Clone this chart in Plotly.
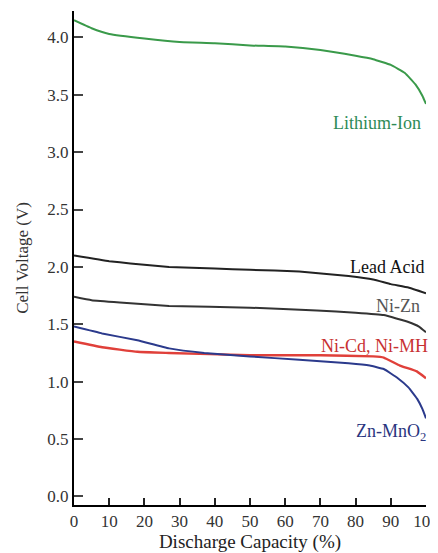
import plotly.graph_objects as go

# Discharge capacity (%) and cell voltage (V) per chemistry
li_x = [0, 5, 10, 20, 30, 40, 50, 60, 70, 80, 85, 90, 94, 97, 99, 100]
li_y = [4.15, 4.08, 4.03, 3.99, 3.96, 3.95, 3.93, 3.92, 3.89, 3.84, 3.81, 3.76, 3.69, 3.59, 3.49, 3.42]

pb_x = [0, 10, 16, 27, 40, 50, 64, 78, 85, 90, 95, 100]
pb_y = [2.10, 2.05, 2.03, 2.00, 1.985, 1.975, 1.96, 1.92, 1.89, 1.85, 1.82, 1.77]

nizn_x = [0, 5, 13, 27, 50, 69, 80, 88, 95, 98, 100]
nizn_y = [1.74, 1.71, 1.69, 1.66, 1.645, 1.62, 1.60, 1.58, 1.52, 1.48, 1.43]

nicd_x = [0, 8, 18, 27, 50, 70, 85, 88, 92.6, 97.4, 100]
nicd_y = [1.35, 1.30, 1.26, 1.25, 1.23, 1.23, 1.22, 1.21, 1.14, 1.09, 1.03]

zn_x = [0, 8, 18, 27, 37, 50, 64, 78, 84, 88, 92, 95, 97.5, 99, 100]
zn_y = [1.48, 1.42, 1.36, 1.29, 1.25, 1.22, 1.19, 1.16, 1.14, 1.11, 1.03, 0.95, 0.85, 0.76, 0.68]

x_ticks = [0, 10, 20, 30, 40, 50, 60, 70, 80, 90, 100]
y_ticks = [0.0, 0.5, 1.0, 1.5, 2.0, 2.5, 3.0, 3.5, 4.0]

labels = ["Lithium-Ion", "Lead Acid", "Ni-Zn", "Ni-Cd, Ni-MH", "Zn-MnO<sub>2</sub>"]
label_x = [86, 89, 92, 85.5, 90]
label_y = [3.25, 2.0, 1.66, 1.31, 0.56]

line_colors = ["#3a9a4a", "#222222", "#333333", "#e0403a", "#2b3a8c"]
label_colors = ["#2e8b57", "#111111", "#555555", "#c83232", "#2a3580"]
line_widths = [2, 2, 2, 2.4, 2]

series = [(li_x, li_y), (pb_x, pb_y), (nizn_x, nizn_y), (nicd_x, nicd_y), (zn_x, zn_y)]

FONT = "Liberation Serif, Times New Roman, serif"

fig = go.Figure()
for (xs, ys), name, col, lw in zip(series, labels, line_colors, line_widths):
    fig.add_trace(go.Scatter(x=xs, y=ys, mode="lines", name=name,
                             line=dict(color=col, width=lw, shape="spline", smoothing=0.3),
                             showlegend=False))

for txt, lx, ly, col in zip(labels, label_x, label_y, label_colors):
    fig.add_annotation(x=lx, y=ly, xref="x", yref="y", text=txt, showarrow=False,
                       font=dict(family=FONT, size=18, color=col),
                       xanchor="center", yanchor="middle")

# page body adds an 8px offset, so the figure is 8px smaller than the window
fig.update_layout(
    width=430, height=545,
    margin=dict(l=66, r=12, t=3, b=48, autoexpand=False),
    paper_bgcolor="white", plot_bgcolor="white",
    font=dict(family=FONT, size=17, color="#333333"),
)
fig.update_xaxes(
    range=[0, 100], tickvals=x_ticks, ticks="inside", ticklen=7, tickwidth=1.5,
    tickcolor="#222", showline=True, linecolor="black", linewidth=2,
    showgrid=False, zeroline=False, automargin=False, ticklabeloverflow="allow",
    title=dict(text="Discharge Capacity (%)", font=dict(family=FONT, size=19, color="#222"), standoff=4),
    tickfont=dict(family=FONT, size=17, color="#333"),
)
fig.update_yaxes(
    range=[-0.075, 4.23], tickvals=y_ticks, tickformat=".1f", ticks="inside", ticklen=9,
    tickwidth=1.5, tickcolor="#444", showline=True, linecolor="black", linewidth=2,
    showgrid=False, zeroline=False, automargin=False, ticklabeloverflow="allow",
    title=dict(text="Cell Voltage (V)", font=dict(family=FONT, size=17, color="#333"), standoff=14),
    tickfont=dict(family=FONT, size=17, color="#333"),
)

fig.write_html("out.html")
